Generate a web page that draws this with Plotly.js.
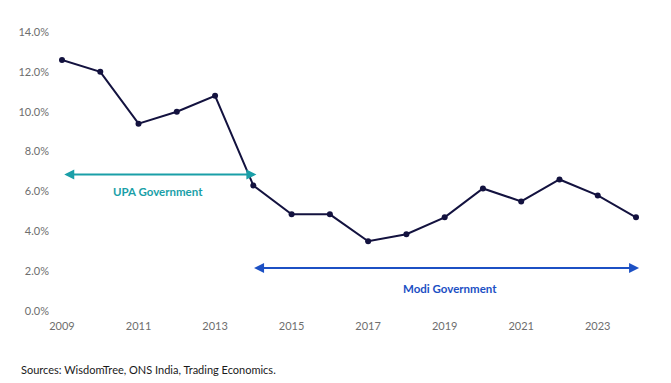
<!DOCTYPE html>
<html>
<head>
<meta charset="utf-8">
<script src="https://cdn.plot.ly/plotly-3.0.1.min.js"></script>
<style>html,body{margin:0;padding:0;background:#fff;}#chart{width:671px;height:383px;}</style>
</head>
<body>
<div id="chart"></div>
<script>
const years = [2009,2010,2011,2012,2013,2014,2015,2016,2017,2018,2019,2020,2021,2022,2023,2024];
const inflation = [12.6,12.0,9.4,10.0,10.8,6.3,4.85,4.85,3.5,3.85,4.7,6.15,5.5,6.6,5.8,4.7];
const xTicks = [2009,2011,2013,2015,2017,2019,2021,2023];
const yTicks = [0,2,4,6,8,10,12,14];
const yTickText = ['0.0%','2.0%','4.0%','6.0%','8.0%','10.0%','12.0%','14.0%'];

const FONT = 'Lato, "Open Sans", sans-serif';

const trace = {
  x: years, y: inflation, type: 'scatter', mode: 'lines+markers',
  line: {color: '#13123f', width: 2},
  marker: {color: '#13123f', size: 6},
  cliponaxis: false, hoverinfo: 'skip'
};

const layout = {
  width: 671, height: 383,
  margin: {l: 62, r: 35, t: 32, b: 72},
  paper_bgcolor: '#fff', plot_bgcolor: '#fff',
  showlegend: false,
  font: {family: FONT, size: 11, color: '#6e6e6e'},
  xaxis: {
    range: [2009, 2024], tickvals: xTicks, ticktext: xTicks.map(String),
    showgrid: false, zeroline: false, showline: false, ticks: '',
    ticklabelstandoff: 7,
    tickfont: {family: FONT, size: 11, color: '#6e6e6e'}
  },
  yaxis: {
    range: [0, 14], tickvals: yTicks, ticktext: yTickText,
    showgrid: false, zeroline: false, showline: false, ticks: '',
    ticklabelstandoff: 12,
    tickfont: {family: FONT, size: 11, color: '#6e6e6e'}
  },
  annotations: [
    {x: 2014.08, y: 6.85, ax: 2009.02, ay: 6.85, xref: 'x', yref: 'y', axref: 'x', ayref: 'y',
     text: '', showarrow: true, arrowside: 'end+start', arrowhead: 2, arrowsize: 1, arrowwidth: 2, arrowcolor: '#1a9fa8'},
    {x: 2011.5, y: 6.0, xref: 'x', yref: 'y', text: '<b>UPA Government</b>', showarrow: false,
     font: {family: FONT, size: 11.5, color: '#1a9fa8'}},
    {x: 2024.08, y: 2.16, ax: 2013.98, ay: 2.16, xref: 'x', yref: 'y', axref: 'x', ayref: 'y',
     text: '', showarrow: true, arrowside: 'end+start', arrowhead: 2, arrowsize: 1, arrowwidth: 2, arrowcolor: '#1c50c4'},
    {x: 2019.15, y: 1.13, xref: 'x', yref: 'y', text: '<b>Modi Government</b>', showarrow: false,
     font: {family: FONT, size: 11.5, color: '#1c50c4'}},
    {x: (19 - 62) / (671 - 62 - 35), y: (311 - 369) / (311 - 32), xref: 'paper', yref: 'paper',
     xanchor: 'left', yanchor: 'middle',
     text: 'Sources: WisdomTree, ONS India, Trading Economics.', showarrow: false,
     font: {family: FONT, size: 11, color: '#1a1a1a'}}
  ]
};

Plotly.newPlot('chart', [trace], layout, {displayModeBar: false, staticPlot: true});
</script>
</body>
</html>
